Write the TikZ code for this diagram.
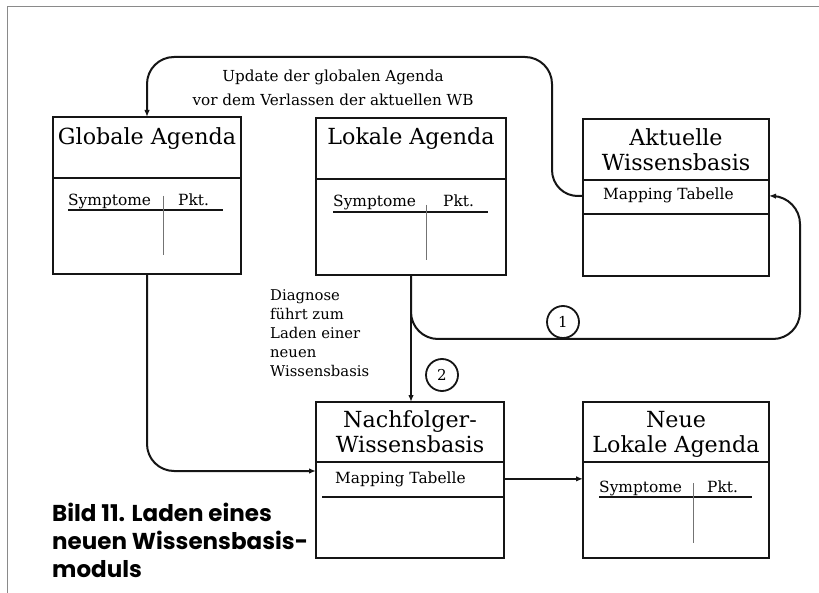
\documentclass[tikz,border=0pt]{standalone}
\usepackage{fontspec}
\setmainfont{DejaVu Serif}
\setsansfont{Poppins}
\usetikzlibrary{positioning,arrows.meta,calc}
\definecolor{bildink}{HTML}{151515}
\definecolor{bildrule}{HTML}{8A8A8A}

\begin{document}
\begin{tikzpicture}[x=1pt,y=-1pt,
  kasten/.style={draw=bildink, line width=2.2pt, inner sep=0pt, outer sep=0pt, anchor=north west, minimum width=188pt, minimum height=157pt},
  titel/.style={align=center, inner sep=0pt, anchor=base, font=\fontsize{22.2}{25}\selectfont},
  zeile/.style={anchor=base west, inner sep=0pt, font=\fontsize{15.4}{18}\selectfont},
  trenn/.style={draw=bildink, line width=1.5pt},
  spalte/.style={draw=bildink!60, line width=0.8pt},
  flow/.style={-{Latex[length=7pt,width=5.5pt]}, draw=bildink, line width=2pt, rounded corners=27pt},
  nummer/.style={circle, draw=bildink, line width=1.8pt, minimum size=32pt, inner sep=0pt, font=\fontsize{15}{15}\selectfont},
  notiz/.style={inner sep=0pt, font=\fontsize{14.8}{19}\selectfont}]
\useasboundingbox[fill=white] (0,0) rectangle (819,593);
% frame of the page
\draw[bildrule, line width=1pt] (819,7) -- (7,7) -- (7,593);
% ===== top row =====
\node[kasten] (glob) at (53,117) {};
\node[titel] (globT) at ($(glob.north)+(0,28)$) {Globale Agenda};
\draw[trenn] ($(glob.north west)+(0,61)$) -- ($(glob.north east)+(0,61)$);
\node[zeile] (globS) at (68,206) {Symptome};
\node[zeile] (globP) at (178,206) {Pkt.};
\draw[trenn, line width=1.1pt] (68,210) -- (223,210);
\draw[spalte] (163,196) -- (163,255);

\node[kasten, minimum width=190pt] (lok) at (316,118) {};
\node[titel] (lokT) at ($(lok.north)+(0,27)$) {Lokale Agenda};
\draw[trenn] ($(lok.north west)+(0,61)$) -- ($(lok.north east)+(0,61)$);
\node[zeile] (lokS) at (333,207) {Symptome};
\node[zeile] (lokP) at (443,207) {Pkt.};
\draw[trenn, line width=1.1pt] (333,212) -- (488,212);
\draw[spalte] (426,205) -- (426,260);

\node[kasten, minimum width=186pt] (akt) at (583,119) {};
\node[titel] (aktT) at ($(akt.north)+(0,52)$) {Aktuelle\\Wissensbasis};
\draw[trenn] ($(akt.north west)+(0,61)$) -- ($(akt.north east)+(0,61)$);
\node[zeile] (mapA) at (603,200) {Mapping Tabelle};
\draw[trenn] ($(akt.north west)+(0,95)$) -- ($(akt.north east)+(0,95)$);
% ===== bottom row =====
\node[kasten, minimum height=156pt] (nach) at (316,402) {};
\node[titel] (nachT) at ($(nach.north)+(0,50)$) {Nachfolger-\\Wissensbasis};
\draw[trenn] ($(nach.north west)+(0,60)$) -- ($(nach.north east)+(0,60)$);
\node[zeile] (mapN) at (335,483) {Mapping Tabelle};
\draw[trenn] ($(nach.north west)+(6,95)$) -- ($(nach.north east)+(0,95)$);

\node[kasten, minimum width=186pt, minimum height=156pt] (neu) at (583,402) {};
\node[titel] (neuT) at ($(neu.north)+(0,50)$) {Neue\\Lokale Agenda};
\draw[trenn] ($(neu.north west)+(0,60)$) -- ($(neu.north east)+(0,60)$);
\node[zeile] (neuS) at (599,492) {Symptome};
\node[zeile] (neuP) at (707,492) {Pkt.};
\draw[trenn, line width=1.1pt] (599,497) -- (752,497);
\draw[spalte] (693,483) -- (693,543);
% ===== connectors =====
\draw[flow] (akt.west |- mapA) -- (552,197) -- (552,57) -- (147,57) -- (glob.north);
\draw[flow] (lok.south) -- (411,339) -- (800,339) -- (800,197) -- (akt.east |- mapA);
\draw[flow] (lok.south) -- (lok.south |- nach.north);
\draw[flow] (glob.south) -- (147,471) -- ($(nach.north west)+(0,69)$);
\draw[flow] (nach.east |- mapN) -- (neu.west |- mapN);
\node[nummer] (eins) at (563,322) {1};
\node[nummer] (zwei) at (442,375) {2};
% ===== labels =====
\node[notiz, align=center, font=\fontsize{15.2}{24}\selectfont] (upd) at (333,88) {Update der globalen Agenda\\vor dem Verlassen der aktuellen WB};
\node[notiz, align=left, anchor=north west] (diag) at (270,289) {Diagnose\\führt zum\\Laden einer\\neuen\\Wissensbasis};
\node[font=\sffamily\bfseries\fontsize{23}{28}\selectfont, align=left, anchor=north west, inner sep=0pt] (bild) at (52,503) {Bild 11. Laden eines\\neuen Wissensbasis-\\moduls};
\end{tikzpicture}
\end{document}
